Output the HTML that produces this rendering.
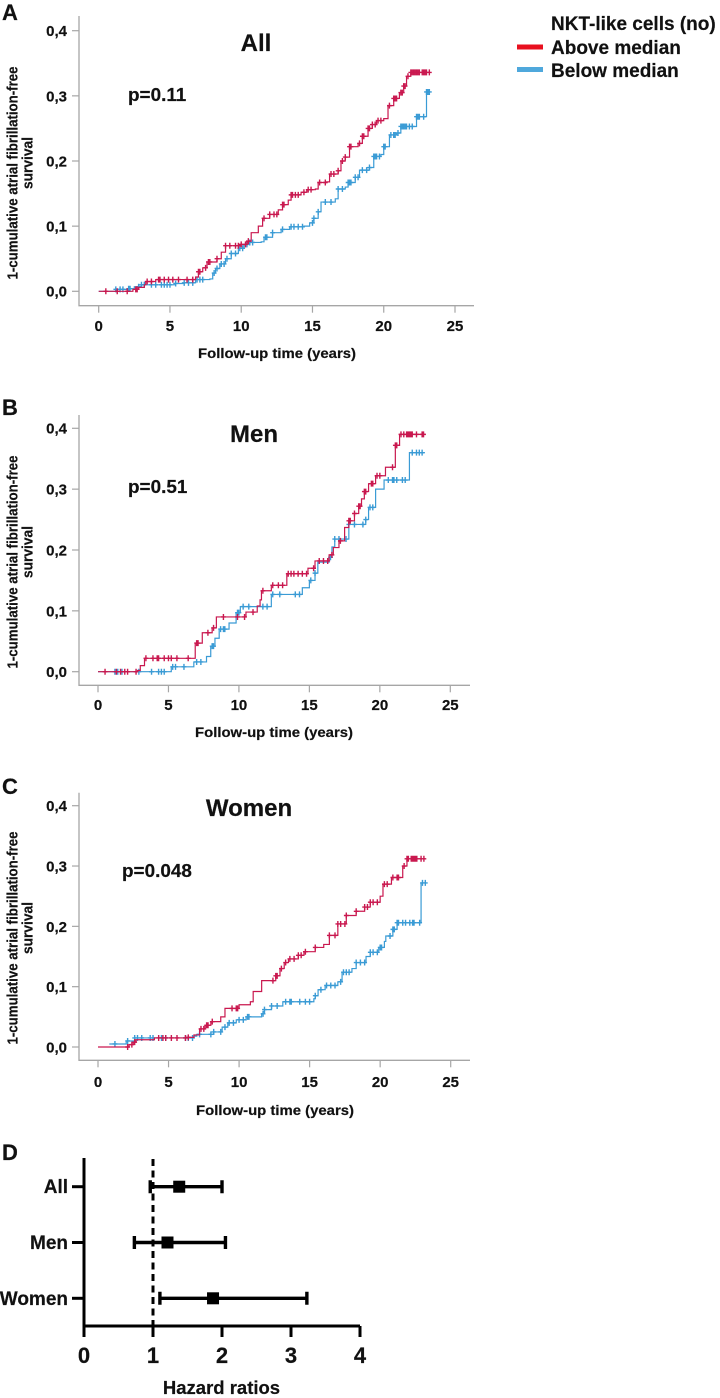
<!DOCTYPE html>
<html lang="en">
<head>
<meta charset="utf-8">
<title>NKT-like cells and atrial fibrillation</title>
<style>
html,body{margin:0;padding:0;background:#fff;width:720px;height:1398px;overflow:hidden}
svg{display:block;filter:blur(0.35px)}
text{font-family:"Liberation Sans",Arial,sans-serif;font-weight:700;fill:#111;stroke:#111;stroke-width:0.2px}
</style>
</head>
<body>
<svg id="figure" xmlns="http://www.w3.org/2000/svg" width="720" height="1398" viewBox="0 0 720 1398">
  <g>
    <text x="551" y="30" font-size="19">NKT-like cells (no)</text>
    <rect x="517" y="44.5" width="26" height="5" fill="#e8101f"/>
    <text x="551" y="54" font-size="19">Above median</text>
    <rect x="517" y="67" width="26" height="5" fill="#4fa8dc"/>
    <text x="551" y="77" font-size="19">Below median</text>
  </g>
</svg>
<script>
// Shared tick labels
const xTickLabels = [0, 5, 10, 15, 20, 25];
const yTickValues = [0, 0.1, 0.2, 0.3, 0.4];
const yTickLabels = ['0,0', '0,1', '0,2', '0,3', '0,4'];

// Panel A: step curve times and cumulative values
const allAboveTimes = [0,2.4,2.8,3.2,3.3,4.0,6.7,6.8,7.0,7.3,7.6,8.3,8.6,8.9,9.9,10.4,10.7,11.2,11.5,12.0,12.6,12.9,13.3,13.5,14.2,14.6,15.2,15.4,16.0,16.2,16.8,17.0,17.3,17.6,18.2,18.5,18.9,19.2,19.5,20.0,20.3,20.7,21.1,21.4,21.6,21.9,23.2];
const allAboveValues = [0,.003,.006,.010,.015,.018,.018,.022,.030,.036,.045,.050,.060,.070,.072,.077,.090,.100,.112,.118,.125,.133,.140,.148,.152,.156,.157,.167,.168,.180,.185,.200,.206,.222,.227,.238,.250,.256,.262,.265,.285,.296,.305,.315,.330,.336,.336];
const allAboveCensored = [.5,1.3,2.0,2.6,2.7,3.4,3.7,4.2,4.3,4.6,4.9,5.2,5.6,6.2,6.6,7.0,7.1,7.5,7.7,7.8,8.3,8.9,9.2,9.6,9.8,10.0,10.3,10.5,11.6,12.0,12.3,12.5,12.9,13.0,13.5,13.6,13.8,14.0,14.4,14.7,14.9,15.5,15.9,16.3,16.5,16.8,17.1,17.3,17.6,17.7,18.3,18.5,18.6,18.9,19.0,19.2,19.4,19.6,19.8,20.4,20.7,20.8,20.9,21.2,21.3,21.4,21.5,21.7,21.9,22.0,22.1,22.2,22.3,22.4,22.5,22.7,22.8,22.9,23.0,23.2];
const allBelowTimes = [0,1.2,2.0,2.5,3.0,5.0,5.3,6.0,6.8,7.8,8.0,8.2,8.5,8.9,9.3,9.8,10.2,10.6,11.4,11.6,12.2,12.8,13.4,14.4,14.8,15.1,15.4,15.6,16.6,16.8,17.3,17.5,18.0,18.3,19.0,19.3,19.8,20.0,20.4,20.9,21.2,22.1,22.3,23.0,23.2];
const allBelowValues = [0,.003,.004,.007,.010,.010,.012,.013,.018,.019,.028,.035,.042,.050,.058,.066,.072,.075,.076,.083,.090,.095,.099,.100,.105,.112,.122,.137,.142,.157,.160,.167,.175,.186,.190,.207,.210,.222,.240,.243,.253,.253,.268,.306,.306];
const allBelowCensored = [1.2,1.5,1.7,2.1,2.2,2.8,3.0,3.2,3.7,4.0,4.4,4.6,4.8,5.0,5.4,6.0,6.3,6.6,6.9,7.1,7.3,8.1,8.3,8.6,8.8,9.0,9.3,9.6,9.9,10.1,10.4,10.6,10.8,11.7,11.8,12.2,12.9,13.5,13.7,14.0,14.3,15.0,15.1,15.4,15.9,16.3,16.8,17.1,17.5,17.6,17.7,18.0,18.2,18.5,18.8,19.0,19.3,19.4,19.5,19.7,20.0,20.1,20.5,20.7,20.8,21.0,21.2,21.3,21.4,21.5,21.6,21.8,22.0,22.3,22.4,22.5,22.8,23.0,23.1,23.2];

// Panel B: step curve times and cumulative values
const menAboveTimes = [0,2.8,3.0,3.3,6.8,6.9,7.4,8.1,8.4,10.0,10.5,11.3,11.5,11.6,12.3,13.4,14.9,15.4,16.4,16.7,17.1,17.5,17.8,18.2,18.5,18.7,18.9,19.2,19.7,20.4,21.1,21.4,23.2];
const menAboveValues = [0,.002,.010,.022,.022,.047,.064,.072,.090,.090,.098,.108,.118,.133,.142,.161,.170,.182,.192,.204,.215,.237,.248,.260,.272,.284,.296,.309,.322,.336,.372,.390,.390];
const menAboveCensored = [.5,1.3,1.6,1.9,2.1,2.7,3.4,3.9,4.2,4.3,4.7,5.0,5.2,5.6,6.4,7.0,7.1,7.8,8.2,8.9,9.9,10.4,11.0,11.7,12.4,12.8,13.1,13.5,13.7,13.9,14.2,14.5,14.8,15.3,15.7,16.0,16.3,16.6,17.2,17.8,17.9,18.2,18.5,18.6,18.9,19.0,19.4,19.5,19.8,20.0,20.9,21.1,21.2,21.5,21.7,21.9,22.0,22.1,22.2,22.3,22.6,23.0,23.1];
const menBelowTimes = [0,5.1,5.2,6.8,7.7,8.0,8.3,8.6,9.3,9.8,10.1,11.5,12.3,14.5,15.0,15.4,15.6,16.4,16.6,16.8,17.8,19.0,19.2,19.7,20.3,22.1,23.2];
const menBelowValues = [0,0,.008,.016,.025,.042,.055,.070,.080,.097,.107,.107,.127,.138,.150,.162,.180,.188,.205,.218,.242,.250,.270,.300,.315,.360,.360];
const menBelowCensored = [1.2,1.4,1.7,2.9,3.8,4.3,4.5,4.7,5.3,5.5,6.1,7.0,7.3,8.1,8.2,8.7,8.9,9.0,9.9,10.0,10.3,10.7,11.7,12.0,12.4,12.9,14.0,14.3,15.1,15.4,16.5,16.8,17.1,17.6,17.8,18.2,18.8,19.0,19.3,19.5,20.6,20.9,21.0,21.2,21.6,21.8,22.3,22.6,22.8,23.0];

// Panel C: step curve times and cumulative values
const womenAboveTimes = [0,2.2,2.5,2.7,4.0,6.4,6.8,7.2,7.6,8.0,8.7,9.0,10.0,10.8,11.0,11.6,12.6,12.9,13.2,13.5,14.2,14.6,15.4,16.0,16.4,17.0,17.6,18.3,18.9,19.3,20.0,20.2,20.8,21.6,21.9,23.2];
const womenAboveValues = [0,.004,.008,.012,.015,.016,.020,.030,.036,.042,.050,.064,.070,.075,.092,.110,.118,.130,.140,.146,.152,.158,.165,.170,.185,.204,.218,.225,.232,.240,.250,.270,.281,.300,.312,.312];
const womenAboveCensored = [2.1,2.4,2.6,4.3,4.6,4.8,5.2,5.6,6.2,6.4,7.3,7.5,7.7,7.8,8.1,9.5,9.8,9.9,12.4,12.6,12.7,13.0,13.3,13.6,13.9,14.2,14.4,14.7,15.4,16.4,16.8,17.0,17.2,17.5,17.6,18.3,18.9,19.1,19.3,19.5,19.8,20.3,20.5,20.9,21.2,21.3,21.7,21.9,22.0,22.2,22.3,22.4,22.5,22.6,22.9,23.1];
const womenBelowTimes = [.8,2.0,2.6,6.8,7.0,8.2,8.8,9.2,9.8,10.5,11.6,11.8,12.3,13.1,15.3,15.4,15.6,16.1,17.0,17.3,18.0,18.3,19.0,19.3,19.9,20.3,20.4,20.9,21.2,22.8,22.9,23.2];
const womenBelowValues = [.005,.010,.015,.018,.021,.025,.033,.040,.045,.050,.055,.062,.068,.075,.080,.085,.095,.102,.108,.124,.130,.140,.150,.157,.165,.175,.184,.195,.206,.206,.272,.272];
const womenBelowCensored = [1.2,2.1,2.6,2.8,3.1,3.7,3.9,4.5,4.8,6.2,6.4,6.7,7.2,8.0,8.2,8.7,9.0,9.3,9.6,10.0,10.3,10.6,10.7,11.7,11.8,12.3,12.7,13.3,13.6,13.7,14.3,14.7,15.0,15.4,15.8,16.2,16.5,16.8,17.2,17.4,17.6,17.8,18.3,18.6,18.9,19.3,19.5,19.8,20.0,20.1,20.7,20.9,21.0,21.2,21.3,21.6,21.8,22.1,22.3,22.4,22.8,23.0,23.2];

// Panel D: hazard ratios with confidence limits
const hrGroups = ['All', 'Men', 'Women'];
const hrValues = [1.38, 1.21, 1.87];
const hrLower = [0.96, 0.73, 1.10];
const hrUpper = [2.00, 2.05, 3.23];
const hrTickLabels = [0, 1, 2, 3, 4];
const hrReference = 1;

const NS = 'http://www.w3.org/2000/svg';
const figure = document.getElementById('figure');
const RED = '#c9184f';
const BLUE = '#3a9bd5';
const AXIS = '#a6a6a6';

function make(parent, tag, attrs, content) {
  const el = document.createElementNS(NS, tag);
  for (const k in attrs) el.setAttribute(k, attrs[k]);
  if (content !== undefined) el.textContent = content;
  parent.appendChild(el);
  return el;
}

function stepValue(times, values, t) {
  let v = values[0];
  for (let i = 0; i < times.length; i++) {
    if (times[i] <= t) v = values[i];
  }
  return v;
}

function drawSeries(g, name, color, times, values, censored, sx, sy) {
  let d = 'M' + sx(times[0]).toFixed(2) + ' ' + sy(values[0]).toFixed(2);
  for (let i = 1; i < times.length; i++) {
    d += 'H' + sx(times[i]).toFixed(2) + 'V' + sy(values[i]).toFixed(2);
  }
  const line = make(g, 'path', {d: d, fill: 'none', stroke: color, 'stroke-width': 1.2});
  
  
  let ticks = '';
  censored.forEach(function (t) {
    const x = sx(t).toFixed(2);
    const y = sy(stepValue(times, values, t));
    ticks += 'M' + x + ' ' + (y - 3).toFixed(2) + 'V' + (y + 3).toFixed(2);
    ticks += 'M' + (sx(t) - 2.4).toFixed(2) + ' ' + y.toFixed(2) + 'h4.8';
  });
  const marks = make(g, 'path', {d: ticks, fill: 'none', stroke: color, 'stroke-width': 1.4});
  
  
}

function drawPanel(p) {
  const g = make(figure, 'g', {});
  
  
  const sx = function (t) { return p.x0 + (p.x25 - p.x0) * t / 25; };
  const sy = function (v) { return p.y0 + (p.y4 - p.y0) * v / 0.4; };

  const letter = make(g, 'text', {x: 2, y: p.letterY, 'font-size': 22}, p.letter);
  
  

  const axes = make(g, 'path', {d: 'M79 ' + p.top + 'V' + p.bottom + 'H' + p.right, fill: 'none', stroke: AXIS, 'stroke-width': 1.3});
  
  

  xTickLabels.forEach(function (t) {
    const tick = make(g, 'line', {x1: sx(t), x2: sx(t), y1: p.bottom, y2: p.bottom + 7, stroke: AXIS, 'stroke-width': 1.2});
    
    
    const label = make(g, 'text', {x: sx(t), y: p.xLabelY, 'font-size': 15, 'text-anchor': 'middle'}, String(t));
    
    
  });
  yTickValues.forEach(function (v, i) {
    const tick = make(g, 'line', {x1: 72, x2: 79, y1: sy(v), y2: sy(v), stroke: AXIS, 'stroke-width': 1.2});
    
    
    const label = make(g, 'text', {x: 67, y: sy(v) + 5.4, 'font-size': 15, 'text-anchor': 'end'}, yTickLabels[i]);
    
    
  });

  const xTitle = make(g, 'text', {x: p.xTitleX, y: p.xTitleY, 'font-size': 13.6, 'text-anchor': 'middle', textLength: 158, lengthAdjust: 'spacingAndGlyphs'}, 'Follow-up time (years)');
  
  

  const y1 = make(g, 'text', {transform: 'translate(17.5 ' + p.yTitleY + ') rotate(-90)', 'font-size': 14.6, 'text-anchor': 'middle', textLength: 213, lengthAdjust: 'spacingAndGlyphs'}, '1-cumulative atrial fibrillation-free');
  
  
  const y2 = make(g, 'text', {transform: 'translate(32.5 ' + (p.yTitleY - 10) + ') rotate(-90)', 'font-size': 14.6, 'text-anchor': 'middle', textLength: 52, lengthAdjust: 'spacingAndGlyphs'}, 'survival');
  
  

  const title = make(g, 'text', {x: p.titleX, y: p.titleY, 'font-size': 24, 'text-anchor': 'middle'}, p.title);
  
  
  const pv = make(g, 'text', {x: p.pX, y: p.pY, 'font-size': 18.9}, p.pText);
  
  

  drawSeries(g, 'below-median', BLUE, p.belowT, p.belowV, p.belowC, sx, sy);
  drawSeries(g, 'above-median', RED, p.aboveT, p.aboveV, p.aboveC, sx, sy);
}

drawPanel({key: 'all', letter: 'A', letterY: 20, title: 'All', titleX: 256, titleY: 51, pText: 'p=0.11', pX: 128, pY: 101,
  x0: 98.7, x25: 455, y0: 291.3, y4: 30.7, top: 16, bottom: 305.7, right: 474, xLabelY: 331, xTitleX: 277, xTitleY: 358, yTitleY: 173,
  aboveT: allAboveTimes, aboveV: allAboveValues, aboveC: allAboveCensored, belowT: allBelowTimes, belowV: allBelowValues, belowC: allBelowCensored});
drawPanel({key: 'men', letter: 'B', letterY: 415, title: 'Men', titleX: 254, titleY: 442, pText: 'p=0.51', pX: 128, pY: 493,
  x0: 98, x25: 450.3, y0: 671.7, y4: 428.3, top: 415, bottom: 685.3, right: 470, xLabelY: 710, xTitleX: 274, xTitleY: 737, yTitleY: 562,
  aboveT: menAboveTimes, aboveV: menAboveValues, aboveC: menAboveCensored, belowT: menBelowTimes, belowV: menBelowValues, belowC: menBelowCensored});
drawPanel({key: 'women', letter: 'C', letterY: 794, title: 'Women', titleX: 249, titleY: 816, pText: 'p=0.048', pX: 122, pY: 877,
  x0: 98, x25: 450.7, y0: 1047, y4: 805.7, top: 792.7, bottom: 1060.3, right: 470, xLabelY: 1087, xTitleX: 275, xTitleY: 1115, yTitleY: 938,
  aboveT: womenAboveTimes, aboveV: womenAboveValues, aboveC: womenAboveCensored, belowT: womenBelowTimes, belowV: womenBelowValues, belowC: womenBelowCensored});

// Forest plot
(function () {
  const g = make(figure, 'g', {});
  
  
  const hx = function (v) { return 84 + 69 * v; };
  const rowY = function (i) { return 1186.7 + 55.8 * i; };

  const letter = make(g, 'text', {x: 2, y: 1160, 'font-size': 22}, 'D');
  
  

  const axes = make(g, 'path', {d: 'M84 1158V1326H' + hx(4), fill: 'none', stroke: '#000', 'stroke-width': 3});
  
  

  const ref = make(g, 'line', {x1: hx(hrReference), x2: hx(hrReference), y1: 1159, y2: 1326, stroke: '#000', 'stroke-width': 3, 'stroke-dasharray': '7 4.5'});
  
  

  hrTickLabels.forEach(function (v) {
    const tick = make(g, 'line', {x1: hx(v), x2: hx(v), y1: 1326, y2: 1337, stroke: '#000', 'stroke-width': 3});
    
    
    const label = make(g, 'text', {x: hx(v), y: 1363, 'font-size': 22, 'text-anchor': 'middle'}, String(v));
    
    
  });

  hrGroups.forEach(function (name, i) {
    const y = rowY(i);
    const tick = make(g, 'line', {x1: 72, x2: 84, y1: y, y2: y, stroke: '#000', 'stroke-width': 3});
    
    
    const label = make(g, 'text', {x: 68, y: y + 6.5, 'font-size': 19, 'text-anchor': 'end'}, name);
    
    
    const ci = make(g, 'path', {d: 'M' + hx(hrLower[i]) + ' ' + y + 'H' + hx(hrUpper[i]) + 'M' + hx(hrLower[i]) + ' ' + (y - 6.5) + 'v13M' + hx(hrUpper[i]) + ' ' + (y - 6.5) + 'v13', fill: 'none', stroke: '#000', 'stroke-width': 3.4});
    
    
    const marker = make(g, 'rect', {x: hx(hrValues[i]) - 6, y: y - 6, width: 12, height: 12, fill: '#000'});
    
    
  });

  const title = make(g, 'text', {x: 221.5, y: 1394, 'font-size': 18.5, 'text-anchor': 'middle'}, 'Hazard ratios');
  
  
})();
</script>
</body>
</html>
